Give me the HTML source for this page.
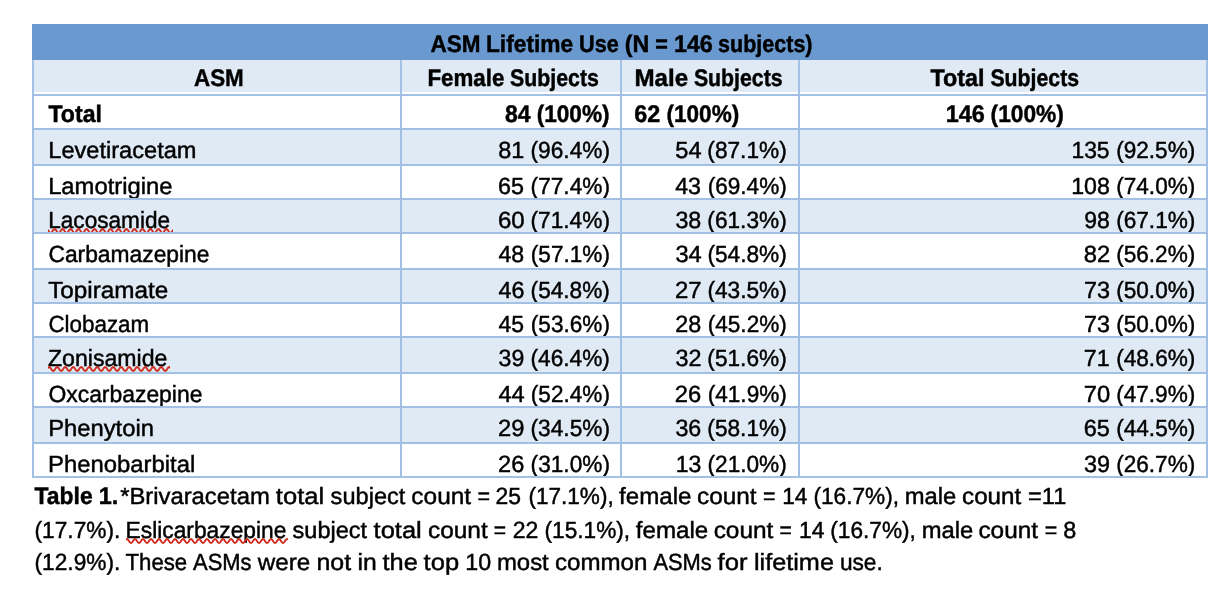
<!DOCTYPE html>
<html lang="en">
<head>
<meta charset="utf-8">
<title>ASM Lifetime Use</title>
<style>
*{box-sizing:border-box;margin:0;padding:0}
html,body{width:1224px;height:596px;background:#fff;overflow:hidden}
body{font-family:"Liberation Sans",sans-serif;font-size:23.4px;color:#000;position:relative;
 -webkit-font-smoothing:antialiased;text-rendering:geometricPrecision;font-kerning:normal;font-variant-ligatures:none;-webkit-text-stroke:0.45px #000}
table{position:absolute;left:32px;top:24px;width:1176px;border-collapse:separate;border-spacing:0;table-layout:fixed}
col.c1{width:370px}col.c2{width:220px}col.c3{width:178px}col.c4{width:408px}
td,th{border-right:2px solid #a2c0e4;border-bottom:2px solid #a2c0e4;vertical-align:top;white-space:nowrap;
 font-weight:400;line-height:22px;overflow:hidden;padding:0;text-align:left}
td:first-child,th:first-child{border-left:2px solid #a2c0e4}
tr.title th{background:#6a99d0;border-color:#6a99d0;height:36px;font-weight:700;text-align:center}
tr.hdr th{background:linear-gradient(to bottom,#e0eaf4 0,#e0eaf4 32px,#fff 32px,#fff 100%);height:36px;font-weight:700}
tr.band td{background:#e0eaf4}
tr.b td{font-weight:700}
tr.title th,tr.hdr th,tr.b td{font-size:24px;line-height:23px}
.cap b{font-size:24px;line-height:27px}
tr.r34 td{height:34px}
tr.r36 td{height:36px}
.w{display:inline-block;transform-origin:0 50%}
td.n{text-align:right}
.cap{position:absolute;left:0;width:1224px;white-space:nowrap;line-height:26px;height:26px;padding-left:34px}
.cap b{font-weight:700}
svg.sq{position:absolute;overflow:hidden}
</style>
</head>
<body>
<table>
<colgroup><col class="c1"><col class="c2"><col class="c3"><col class="c4"></colgroup>
<thead>
<tr class="title"><th colspan="4" style="padding-top:9px"><span class="w" style="transform:translateX(17.52px) scaleX(0.937)">ASM</span> <span class="w" style="transform:translateX(12.98px) scaleX(0.9478)">Lifetime</span> <span class="w" style="transform:translateX(7.1px) scaleX(0.901)">Use</span> <span class="w" style="transform:translateX(2.76px) scaleX(0.9687)">(N</span> <span class="w" style="transform:translateX(1.21px) scaleX(0.8999)">=</span> <span class="w" style="transform:translateX(-1.1px) scaleX(0.9727)">146</span> <span class="w" style="transform:translateX(-3.91px) scaleX(0.8963)">subjects)</span></th></tr>
<tr class="hdr"><th style="padding-top:7px;padding-left:160px"><span class="w" style="transform:scaleX(0.9324)">ASM</span></th><th style="padding-top:7px;padding-left:26px"><span class="w" style="transform:translateX(-0.6px) scaleX(0.9311)">Female</span> <span class="w" style="transform:translateX(-6.92px) scaleX(0.8883)">Subjects</span></th><th style="padding-top:7px;padding-left:13px"><span class="w" style="transform:translateX(-0.5px) scaleX(1.0054)">Male</span> <span class="w" style="transform:translateX(-1.11px) scaleX(0.8869)">Subjects</span></th><th style="padding-top:7px;padding-left:130px"><span class="w" style="transform:translateX(0.53px) scaleX(0.9726)">Total</span> <span class="w" style="transform:translateX(-1.57px) scaleX(0.8866)">Subjects</span></th></tr>
</thead>
<tbody>
<tr class="r34 b"><td style="padding-top:7px;padding-left:14px"><span class="w" style="transform:translateX(0.45px) scaleX(0.9626)">Total</span></td><td style="padding-top:7px;padding-left:103px"><span class="w" style="transform:scaleX(0.9563)">84</span> <span class="w" style="transform:translateX(-1.33px) scaleX(0.9424)">(100%)</span></td><td style="padding-top:7px;padding-left:12px"><span class="w" style="transform:translateX(0.34px) scaleX(0.9736)">62</span> <span class="w" style="transform:translateX(-0.48px) scaleX(0.9396)">(100%)</span></td><td style="padding-top:7px;padding-left:146px"><span class="w" style="transform:translateX(-0.16px) scaleX(0.9744)">146</span> <span class="w" style="transform:translateX(-2.44px) scaleX(0.947)">(100%)</span></td></tr>
<tr class="r36 band"><td style="padding-top:9px;padding-left:14px"><span class="w" style="transform:translateX(0.27px) scaleX(1.0088)">Levetiracetam</span></td><td class="n" style="padding-top:9px;padding-right:10px"><span class="w" style="transform:translateX(2.16px) scaleX(1.0016)">81</span> <span class="w" style="transform:translateX(2.56px) scaleX(0.9693)">(96.4%)</span></td><td class="n" style="padding-top:9px;padding-right:10px"><span class="w" style="transform:translateX(1.36px) scaleX(1.0085)">54</span> <span class="w" style="transform:translateX(1.35px) scaleX(0.9691)">(87.1%)</span></td><td class="n" style="padding-top:9px;padding-right:10px"><span class="w" style="transform:translateX(2.43px) scaleX(0.9779)">135</span> <span class="w" style="transform:translateX(2.22px) scaleX(0.9649)">(92.5%)</span></td></tr>
<tr class="r34"><td style="padding-top:9px;padding-left:14px"><span class="w" style="transform:translateX(0.13px) scaleX(1.0172)">Lamotrigine</span></td><td class="n" style="padding-top:9px;padding-right:10px"><span class="w" style="transform:translateX(2.06px) scaleX(0.9986)">65</span> <span class="w" style="transform:translateX(2.6px) scaleX(0.969)">(77.4%)</span></td><td class="n" style="padding-top:9px;padding-right:10px"><span class="w" style="transform:translateX(1.2px) scaleX(0.9928)">43</span> <span class="w" style="transform:translateX(1.72px) scaleX(0.9646)">(69.4%)</span></td><td class="n" style="padding-top:9px;padding-right:10px"><span class="w" style="transform:translateX(2.19px) scaleX(0.9904)">108</span> <span class="w" style="transform:translateX(2.23px) scaleX(0.9651)">(74.0%)</span></td></tr>
<tr class="r34 band"><td style="padding-top:9px;padding-left:14px"><span class="w" style="transform:translateX(0.26px) scaleX(0.9653)">Lacosamide</span></td><td class="n" style="padding-top:9px;padding-right:10px"><span class="w" style="transform:translateX(2.01px) scaleX(1.0272)">60</span> <span class="w" style="transform:translateX(2.54px) scaleX(0.9693)">(71.4%)</span></td><td class="n" style="padding-top:9px;padding-right:10px"><span class="w" style="transform:translateX(1.42px) scaleX(0.9943)">38</span> <span class="w" style="transform:translateX(1.35px) scaleX(0.9691)">(61.3%)</span></td><td class="n" style="padding-top:9px;padding-right:10px"><span class="w" style="transform:translateX(2.33px) scaleX(0.9828)">98</span> <span class="w" style="transform:translateX(2.17px) scaleX(0.9669)">(67.1%)</span></td></tr>
<tr class="r36"><td style="padding-top:9px;padding-left:14px"><span class="w" style="transform:translateX(0.4px) scaleX(0.9755)">Carbamazepine</span></td><td class="n" style="padding-top:9px;padding-right:10px"><span class="w" style="transform:translateX(2.39px) scaleX(0.9888)">48</span> <span class="w" style="transform:translateX(2.85px) scaleX(0.9653)">(57.1%)</span></td><td class="n" style="padding-top:9px;padding-right:10px"><span class="w" style="transform:translateX(1.4px) scaleX(1.0114)">34</span> <span class="w" style="transform:translateX(1.4px) scaleX(0.9692)">(54.8%)</span></td><td class="n" style="padding-top:9px;padding-right:10px"><span class="w" style="transform:translateX(1.69px) scaleX(1.0143)">82</span> <span class="w" style="transform:translateX(2.17px) scaleX(0.9664)">(56.2%)</span></td></tr>
<tr class="r34 band"><td style="padding-top:9px;padding-left:14px"><span class="w" style="transform:translateX(0.13px) scaleX(1.0385)">Topiramate</span></td><td class="n" style="padding-top:9px;padding-right:10px"><span class="w" style="transform:translateX(2.53px) scaleX(0.9955)">46</span> <span class="w" style="transform:translateX(2.6px) scaleX(0.9675)">(54.8%)</span></td><td class="n" style="padding-top:9px;padding-right:10px"><span class="w" style="transform:translateX(0.88px) scaleX(1.024)">27</span> <span class="w" style="transform:translateX(1.38px) scaleX(0.9693)">(43.5%)</span></td><td class="n" style="padding-top:9px;padding-right:10px"><span class="w" style="transform:translateX(1.88px) scaleX(0.9991)">73</span> <span class="w" style="transform:translateX(2.17px) scaleX(0.9666)">(50.0%)</span></td></tr>
<tr class="r34"><td style="padding-top:9px;padding-left:14px"><span class="w" style="transform:translateX(0.4px) scaleX(0.9573)">Clobazam</span></td><td class="n" style="padding-top:9px;padding-right:10px"><span class="w" style="transform:translateX(2.53px) scaleX(0.981)">45</span> <span class="w" style="transform:translateX(2.85px) scaleX(0.9653)">(53.6%)</span></td><td class="n" style="padding-top:9px;padding-right:10px"><span class="w" style="transform:translateX(1.18px) scaleX(0.997)">28</span> <span class="w" style="transform:translateX(1.7px) scaleX(0.9661)">(45.2%)</span></td><td class="n" style="padding-top:9px;padding-right:10px"><span class="w" style="transform:translateX(1.93px) scaleX(0.9964)">73</span> <span class="w" style="transform:translateX(2.17px) scaleX(0.9663)">(50.0%)</span></td></tr>
<tr class="r36 band"><td style="padding-top:9px;padding-left:14px"><span class="w" style="transform:scaleX(0.9869)">Zonisamide</span></td><td class="n" style="padding-top:9px;padding-right:10px"><span class="w" style="transform:translateX(2.62px) scaleX(0.9876)">39</span> <span class="w" style="transform:translateX(2.56px) scaleX(0.969)">(46.4%)</span></td><td class="n" style="padding-top:9px;padding-right:10px"><span class="w" style="transform:translateX(1.42px) scaleX(0.9991)">32</span> <span class="w" style="transform:translateX(1.35px) scaleX(0.9691)">(51.6%)</span></td><td class="n" style="padding-top:9px;padding-right:10px"><span class="w" style="transform:translateX(1.87px) scaleX(0.9949)">71</span> <span class="w" style="transform:translateX(2.17px) scaleX(0.9666)">(48.6%)</span></td></tr>
<tr class="r34"><td style="padding-top:9px;padding-left:14px"><span class="w" style="transform:translateX(0.47px) scaleX(0.9782)">Oxcarbazepine</span></td><td class="n" style="padding-top:9px;padding-right:10px"><span class="w" style="transform:translateX(2.39px) scaleX(1.0106)">44</span> <span class="w" style="transform:translateX(2.85px) scaleX(0.9653)">(52.4%)</span></td><td class="n" style="padding-top:9px;padding-right:10px"><span class="w" style="transform:translateX(0.85px) scaleX(1.0157)">26</span> <span class="w" style="transform:translateX(1.7px) scaleX(0.9661)">(41.9%)</span></td><td class="n" style="padding-top:9px;padding-right:10px"><span class="w" style="transform:translateX(1.85px) scaleX(1.0152)">70</span> <span class="w" style="transform:translateX(2.17px) scaleX(0.9663)">(47.9%)</span></td></tr>
<tr class="r36 band"><td style="padding-top:9px;padding-left:14px"><span class="w" style="transform:translateX(0.13px) scaleX(1.0166)">Phenytoin</span></td><td class="n" style="padding-top:9px;padding-right:10px"><span class="w" style="transform:translateX(2.1px) scaleX(1.016)">29</span> <span class="w" style="transform:translateX(2.57px) scaleX(0.9692)">(34.5%)</span></td><td class="n" style="padding-top:9px;padding-right:10px"><span class="w" style="transform:translateX(1.44px) scaleX(0.9943)">36</span> <span class="w" style="transform:translateX(1.35px) scaleX(0.9691)">(58.1%)</span></td><td class="n" style="padding-top:9px;padding-right:10px"><span class="w" style="transform:translateX(1.63px) scaleX(1.0045)">65</span> <span class="w" style="transform:translateX(2.17px) scaleX(0.9665)">(44.5%)</span></td></tr>
<tr class="r34"><td style="padding-top:9px;padding-left:14px"><span class="w" style="transform:translateX(0.07px) scaleX(1.0198)">Phenobarbital</span></td><td class="n" style="padding-top:9px;padding-right:10px"><span class="w" style="transform:translateX(2.08px) scaleX(1.0085)">26</span> <span class="w" style="transform:translateX(2.6px) scaleX(0.969)">(31.0%)</span></td><td class="n" style="padding-top:9px;padding-right:10px"><span class="w" style="transform:translateX(1.64px) scaleX(0.9848)">13</span> <span class="w" style="transform:translateX(1.5px) scaleX(0.9681)">(21.0%)</span></td><td class="n" style="padding-top:9px;padding-right:10px"><span class="w" style="transform:translateX(1.88px) scaleX(1.001)">39</span> <span class="w" style="transform:translateX(2.17px) scaleX(0.9664)">(26.7%)</span></td></tr>
</tbody>
</table>
<p class="cap" style="top:483px"><b><span class="w" style="transform:translateX(0.45px) scaleX(0.9555)">Table</span> <span class="w" style="transform:translateX(-3.22px) scaleX(0.976)">1.</span></b><span class="w" style="transform:translateX(-1.87px) scaleX(1.0186)">*Brivaracetam</span> <span class="w" style="transform:translateX(0.86px) scaleX(1.0921)">total</span> <span class="w" style="transform:translateX(4.62px) scaleX(1.0081)">subject</span> <span class="w" style="transform:translateX(5.32px) scaleX(1.0451)">count</span> <span class="w" style="transform:translateX(7.45px) scaleX(0.9168)">=</span> <span class="w" style="transform:translateX(5.6px) scaleX(0.98)">25</span> <span class="w" style="transform:translateX(5.48px) scaleX(0.9638)">(17.1%),</span> <span class="w" style="transform:translateX(1.03px) scaleX(1.0313)">female</span> <span class="w" style="transform:translateX(2.96px) scaleX(1.0402)">count</span> <span class="w" style="transform:translateX(5.06px) scaleX(0.9178)">=</span> <span class="w" style="transform:translateX(4.19px) scaleX(0.9731)">14</span> <span class="w" style="transform:translateX(2.49px) scaleX(0.9679)">(16.7%),</span> <span class="w" style="transform:translateX(-1.24px) scaleX(1.0167)">male</span> <span class="w" style="transform:translateX(-0.94px) scaleX(1.0324)">count</span> <span class="w" style="transform:translateX(1.03px) scaleX(1.0074)">=11</span></p>
<p class="cap" style="top:517px"><span class="w" style="transform:translateX(0.53px) scaleX(0.9701)">(17.7%).</span> <span class="w" style="transform:translateX(-3.44px) scaleX(0.9743)">Eslicarbazepine</span> <span class="w" style="transform:translateX(-8.45px) scaleX(1.0064)">subject</span> <span class="w" style="transform:translateX(-7.4px) scaleX(1.0893)">total</span> <span class="w" style="transform:translateX(-4.04px) scaleX(1.0442)">count</span> <span class="w" style="transform:translateX(-2.17px) scaleX(0.9019)">=</span> <span class="w" style="transform:translateX(-3.27px) scaleX(0.9841)">22</span> <span class="w" style="transform:translateX(-3.44px) scaleX(0.9678)">(15.1%),</span> <span class="w" style="transform:translateX(-7.26px) scaleX(1.0335)">female</span> <span class="w" style="transform:translateX(-6.37px) scaleX(1.0435)">count</span> <span class="w" style="transform:translateX(-4.44px) scaleX(0.9019)">=</span> <span class="w" style="transform:translateX(-5.02px) scaleX(0.9773)">14</span> <span class="w" style="transform:translateX(-5.76px) scaleX(0.9688)">(16.7%),</span> <span class="w" style="transform:translateX(-9.37px) scaleX(1.0164)">male</span> <span class="w" style="transform:translateX(-10.57px) scaleX(1.0416)">count</span> <span class="w" style="transform:translateX(-7.37px) scaleX(0.9143)">=</span> <span class="w" style="transform:translateX(-9.25px)">8</span></p>
<p class="cap" style="top:549px"><span class="w" style="transform:translateX(0.53px) scaleX(0.97)">(12.9%).</span> <span class="w" style="transform:translateX(-3.54px) scaleX(0.9495)">These</span> <span class="w" style="transform:translateX(-6.97px) scaleX(0.9371)">ASMs</span> <span class="w" style="transform:translateX(-11.29px) scaleX(1.0359)">were</span> <span class="w" style="transform:translateX(-10.58px) scaleX(1.065)">not</span> <span class="w" style="transform:translateX(-8.43px) scaleX(1.0567)">in</span> <span class="w" style="transform:translateX(-7.44px) scaleX(1.0864)">the</span> <span class="w" style="transform:translateX(-5.38px) scaleX(1.0905)">top</span> <span class="w" style="transform:translateX(-2.73px) scaleX(0.9929)">10</span> <span class="w" style="transform:translateX(-4.1px) scaleX(1.0231)">most</span> <span class="w" style="transform:translateX(-2.96px) scaleX(1.03)">common</span> <span class="w" style="transform:translateX(-0.6px) scaleX(0.9362)">ASMs</span> <span class="w" style="transform:translateX(-5.38px) scaleX(1.0969)">for</span> <span class="w" style="transform:translateX(-3.04px) scaleX(1.0795)">lifetime</span> <span class="w" style="transform:translateX(1.88px) scaleX(0.9711)">use.</span></p>
<svg class="sq" style="left:47.5px;top:227.9px" width="125" height="4.1" viewBox="0 0 125 4.1" aria-hidden="true"><path d="M0 2.25 L0.5 3 L1 3.75 L1.5 4.38 L2 4.8 L2.5 4.95 L3 4.8 L3.5 4.38 L4 3.75 L4.5 3 L5 2.25 L5.5 1.62 L6 1.2 L6.5 1.05 L7 1.2 L7.5 1.62 L8 2.25 L8.5 3 L9 3.75 L9.5 4.38 L10 4.8 L10.5 4.95 L11 4.8 L11.5 4.38 L12 3.75 L12.5 3 L13 2.25 L13.5 1.62 L14 1.2 L14.5 1.05 L15 1.2 L15.5 1.62 L16 2.25 L16.5 3 L17 3.75 L17.5 4.38 L18 4.8 L18.5 4.95 L19 4.8 L19.5 4.38 L20 3.75 L20.5 3 L21 2.25 L21.5 1.62 L22 1.2 L22.5 1.05 L23 1.2 L23.5 1.62 L24 2.25 L24.5 3 L25 3.75 L25.5 4.38 L26 4.8 L26.5 4.95 L27 4.8 L27.5 4.38 L28 3.75 L28.5 3 L29 2.25 L29.5 1.62 L30 1.2 L30.5 1.05 L31 1.2 L31.5 1.62 L32 2.25 L32.5 3 L33 3.75 L33.5 4.38 L34 4.8 L34.5 4.95 L35 4.8 L35.5 4.38 L36 3.75 L36.5 3 L37 2.25 L37.5 1.62 L38 1.2 L38.5 1.05 L39 1.2 L39.5 1.62 L40 2.25 L40.5 3 L41 3.75 L41.5 4.38 L42 4.8 L42.5 4.95 L43 4.8 L43.5 4.38 L44 3.75 L44.5 3 L45 2.25 L45.5 1.62 L46 1.2 L46.5 1.05 L47 1.2 L47.5 1.62 L48 2.25 L48.5 3 L49 3.75 L49.5 4.38 L50 4.8 L50.5 4.95 L51 4.8 L51.5 4.38 L52 3.75 L52.5 3 L53 2.25 L53.5 1.62 L54 1.2 L54.5 1.05 L55 1.2 L55.5 1.62 L56 2.25 L56.5 3 L57 3.75 L57.5 4.38 L58 4.8 L58.5 4.95 L59 4.8 L59.5 4.38 L60 3.75 L60.5 3 L61 2.25 L61.5 1.62 L62 1.2 L62.5 1.05 L63 1.2 L63.5 1.62 L64 2.25 L64.5 3 L65 3.75 L65.5 4.38 L66 4.8 L66.5 4.95 L67 4.8 L67.5 4.38 L68 3.75 L68.5 3 L69 2.25 L69.5 1.62 L70 1.2 L70.5 1.05 L71 1.2 L71.5 1.62 L72 2.25 L72.5 3 L73 3.75 L73.5 4.38 L74 4.8 L74.5 4.95 L75 4.8 L75.5 4.38 L76 3.75 L76.5 3 L77 2.25 L77.5 1.62 L78 1.2 L78.5 1.05 L79 1.2 L79.5 1.62 L80 2.25 L80.5 3 L81 3.75 L81.5 4.38 L82 4.8 L82.5 4.95 L83 4.8 L83.5 4.38 L84 3.75 L84.5 3 L85 2.25 L85.5 1.62 L86 1.2 L86.5 1.05 L87 1.2 L87.5 1.62 L88 2.25 L88.5 3 L89 3.75 L89.5 4.38 L90 4.8 L90.5 4.95 L91 4.8 L91.5 4.38 L92 3.75 L92.5 3 L93 2.25 L93.5 1.62 L94 1.2 L94.5 1.05 L95 1.2 L95.5 1.62 L96 2.25 L96.5 3 L97 3.75 L97.5 4.38 L98 4.8 L98.5 4.95 L99 4.8 L99.5 4.38 L100 3.75 L100.5 3 L101 2.25 L101.5 1.62 L102 1.2 L102.5 1.05 L103 1.2 L103.5 1.62 L104 2.25 L104.5 3 L105 3.75 L105.5 4.38 L106 4.8 L106.5 4.95 L107 4.8 L107.5 4.38 L108 3.75 L108.5 3 L109 2.25 L109.5 1.62 L110 1.2 L110.5 1.05 L111 1.2 L111.5 1.62 L112 2.25 L112.5 3 L113 3.75 L113.5 4.38 L114 4.8 L114.5 4.95 L115 4.8 L115.5 4.38 L116 3.75 L116.5 3 L117 2.25 L117.5 1.62 L118 1.2 L118.5 1.05 L119 1.2 L119.5 1.62 L120 2.25 L120.5 3 L121 3.75 L121.5 4.38 L122 4.8 L122.5 4.95 L123 4.8 L123.5 4.38 L124 3.75 L124.5 3 L125 2.25" fill="none" stroke="#cf2a1b" stroke-width="1.9" stroke-linecap="round" stroke-linejoin="round"/></svg>
<svg class="sq" style="left:47.5px;top:365.9px" width="122.5" height="6" viewBox="0 0 122.5 6" aria-hidden="true"><path d="M0 1.85 L0.5 1.34 L1 1.07 L1.5 1.1 L2 1.42 L2.5 1.98 L3 2.69 L3.5 3.46 L4 4.15 L4.5 4.66 L5 4.93 L5.5 4.9 L6 4.58 L6.5 4.02 L7 3.31 L7.5 2.54 L8 1.85 L8.5 1.34 L9 1.07 L9.5 1.1 L10 1.42 L10.5 1.98 L11 2.69 L11.5 3.46 L12 4.15 L12.5 4.66 L13 4.93 L13.5 4.9 L14 4.58 L14.5 4.02 L15 3.31 L15.5 2.54 L16 1.85 L16.5 1.34 L17 1.07 L17.5 1.1 L18 1.42 L18.5 1.98 L19 2.69 L19.5 3.46 L20 4.15 L20.5 4.66 L21 4.93 L21.5 4.9 L22 4.58 L22.5 4.02 L23 3.31 L23.5 2.54 L24 1.85 L24.5 1.34 L25 1.07 L25.5 1.1 L26 1.42 L26.5 1.98 L27 2.69 L27.5 3.46 L28 4.15 L28.5 4.66 L29 4.93 L29.5 4.9 L30 4.58 L30.5 4.02 L31 3.31 L31.5 2.54 L32 1.85 L32.5 1.34 L33 1.07 L33.5 1.1 L34 1.42 L34.5 1.98 L35 2.69 L35.5 3.46 L36 4.15 L36.5 4.66 L37 4.93 L37.5 4.9 L38 4.58 L38.5 4.02 L39 3.31 L39.5 2.54 L40 1.85 L40.5 1.34 L41 1.07 L41.5 1.1 L42 1.42 L42.5 1.98 L43 2.69 L43.5 3.46 L44 4.15 L44.5 4.66 L45 4.93 L45.5 4.9 L46 4.58 L46.5 4.02 L47 3.31 L47.5 2.54 L48 1.85 L48.5 1.34 L49 1.07 L49.5 1.1 L50 1.42 L50.5 1.98 L51 2.69 L51.5 3.46 L52 4.15 L52.5 4.66 L53 4.93 L53.5 4.9 L54 4.58 L54.5 4.02 L55 3.31 L55.5 2.54 L56 1.85 L56.5 1.34 L57 1.07 L57.5 1.1 L58 1.42 L58.5 1.98 L59 2.69 L59.5 3.46 L60 4.15 L60.5 4.66 L61 4.93 L61.5 4.9 L62 4.58 L62.5 4.02 L63 3.31 L63.5 2.54 L64 1.85 L64.5 1.34 L65 1.07 L65.5 1.1 L66 1.42 L66.5 1.98 L67 2.69 L67.5 3.46 L68 4.15 L68.5 4.66 L69 4.93 L69.5 4.9 L70 4.58 L70.5 4.02 L71 3.31 L71.5 2.54 L72 1.85 L72.5 1.34 L73 1.07 L73.5 1.1 L74 1.42 L74.5 1.98 L75 2.69 L75.5 3.46 L76 4.15 L76.5 4.66 L77 4.93 L77.5 4.9 L78 4.58 L78.5 4.02 L79 3.31 L79.5 2.54 L80 1.85 L80.5 1.34 L81 1.07 L81.5 1.1 L82 1.42 L82.5 1.98 L83 2.69 L83.5 3.46 L84 4.15 L84.5 4.66 L85 4.93 L85.5 4.9 L86 4.58 L86.5 4.02 L87 3.31 L87.5 2.54 L88 1.85 L88.5 1.34 L89 1.07 L89.5 1.1 L90 1.42 L90.5 1.98 L91 2.69 L91.5 3.46 L92 4.15 L92.5 4.66 L93 4.93 L93.5 4.9 L94 4.58 L94.5 4.02 L95 3.31 L95.5 2.54 L96 1.85 L96.5 1.34 L97 1.07 L97.5 1.1 L98 1.42 L98.5 1.98 L99 2.69 L99.5 3.46 L100 4.15 L100.5 4.66 L101 4.93 L101.5 4.9 L102 4.58 L102.5 4.02 L103 3.31 L103.5 2.54 L104 1.85 L104.5 1.34 L105 1.07 L105.5 1.1 L106 1.42 L106.5 1.98 L107 2.69 L107.5 3.46 L108 4.15 L108.5 4.66 L109 4.93 L109.5 4.9 L110 4.58 L110.5 4.02 L111 3.31 L111.5 2.54 L112 1.85 L112.5 1.34 L113 1.07 L113.5 1.1 L114 1.42 L114.5 1.98 L115 2.69 L115.5 3.46 L116 4.15 L116.5 4.66 L117 4.93 L117.5 4.9 L118 4.58 L118.5 4.02 L119 3.31 L119.5 2.54 L120 1.85 L120.5 1.34 L121 1.07 L121.5 1.1 L122 1.42 L122.5 1.98" fill="none" stroke="#cf2a1b" stroke-width="1.9" stroke-linecap="round" stroke-linejoin="round"/></svg>
<svg class="sq" style="left:126px;top:538px" width="161.5" height="6" viewBox="0 0 161.5 6" aria-hidden="true"><path d="M0 1.62 L0.5 1.2 L1 1.05 L1.5 1.2 L2 1.62 L2.5 2.25 L3 3 L3.5 3.75 L4 4.38 L4.5 4.8 L5 4.95 L5.5 4.8 L6 4.38 L6.5 3.75 L7 3 L7.5 2.25 L8 1.62 L8.5 1.2 L9 1.05 L9.5 1.2 L10 1.62 L10.5 2.25 L11 3 L11.5 3.75 L12 4.38 L12.5 4.8 L13 4.95 L13.5 4.8 L14 4.38 L14.5 3.75 L15 3 L15.5 2.25 L16 1.62 L16.5 1.2 L17 1.05 L17.5 1.2 L18 1.62 L18.5 2.25 L19 3 L19.5 3.75 L20 4.38 L20.5 4.8 L21 4.95 L21.5 4.8 L22 4.38 L22.5 3.75 L23 3 L23.5 2.25 L24 1.62 L24.5 1.2 L25 1.05 L25.5 1.2 L26 1.62 L26.5 2.25 L27 3 L27.5 3.75 L28 4.38 L28.5 4.8 L29 4.95 L29.5 4.8 L30 4.38 L30.5 3.75 L31 3 L31.5 2.25 L32 1.62 L32.5 1.2 L33 1.05 L33.5 1.2 L34 1.62 L34.5 2.25 L35 3 L35.5 3.75 L36 4.38 L36.5 4.8 L37 4.95 L37.5 4.8 L38 4.38 L38.5 3.75 L39 3 L39.5 2.25 L40 1.62 L40.5 1.2 L41 1.05 L41.5 1.2 L42 1.62 L42.5 2.25 L43 3 L43.5 3.75 L44 4.38 L44.5 4.8 L45 4.95 L45.5 4.8 L46 4.38 L46.5 3.75 L47 3 L47.5 2.25 L48 1.62 L48.5 1.2 L49 1.05 L49.5 1.2 L50 1.62 L50.5 2.25 L51 3 L51.5 3.75 L52 4.38 L52.5 4.8 L53 4.95 L53.5 4.8 L54 4.38 L54.5 3.75 L55 3 L55.5 2.25 L56 1.62 L56.5 1.2 L57 1.05 L57.5 1.2 L58 1.62 L58.5 2.25 L59 3 L59.5 3.75 L60 4.38 L60.5 4.8 L61 4.95 L61.5 4.8 L62 4.38 L62.5 3.75 L63 3 L63.5 2.25 L64 1.62 L64.5 1.2 L65 1.05 L65.5 1.2 L66 1.62 L66.5 2.25 L67 3 L67.5 3.75 L68 4.38 L68.5 4.8 L69 4.95 L69.5 4.8 L70 4.38 L70.5 3.75 L71 3 L71.5 2.25 L72 1.62 L72.5 1.2 L73 1.05 L73.5 1.2 L74 1.62 L74.5 2.25 L75 3 L75.5 3.75 L76 4.38 L76.5 4.8 L77 4.95 L77.5 4.8 L78 4.38 L78.5 3.75 L79 3 L79.5 2.25 L80 1.62 L80.5 1.2 L81 1.05 L81.5 1.2 L82 1.62 L82.5 2.25 L83 3 L83.5 3.75 L84 4.38 L84.5 4.8 L85 4.95 L85.5 4.8 L86 4.38 L86.5 3.75 L87 3 L87.5 2.25 L88 1.62 L88.5 1.2 L89 1.05 L89.5 1.2 L90 1.62 L90.5 2.25 L91 3 L91.5 3.75 L92 4.38 L92.5 4.8 L93 4.95 L93.5 4.8 L94 4.38 L94.5 3.75 L95 3 L95.5 2.25 L96 1.62 L96.5 1.2 L97 1.05 L97.5 1.2 L98 1.62 L98.5 2.25 L99 3 L99.5 3.75 L100 4.38 L100.5 4.8 L101 4.95 L101.5 4.8 L102 4.38 L102.5 3.75 L103 3 L103.5 2.25 L104 1.62 L104.5 1.2 L105 1.05 L105.5 1.2 L106 1.62 L106.5 2.25 L107 3 L107.5 3.75 L108 4.38 L108.5 4.8 L109 4.95 L109.5 4.8 L110 4.38 L110.5 3.75 L111 3 L111.5 2.25 L112 1.62 L112.5 1.2 L113 1.05 L113.5 1.2 L114 1.62 L114.5 2.25 L115 3 L115.5 3.75 L116 4.38 L116.5 4.8 L117 4.95 L117.5 4.8 L118 4.38 L118.5 3.75 L119 3 L119.5 2.25 L120 1.62 L120.5 1.2 L121 1.05 L121.5 1.2 L122 1.62 L122.5 2.25 L123 3 L123.5 3.75 L124 4.38 L124.5 4.8 L125 4.95 L125.5 4.8 L126 4.38 L126.5 3.75 L127 3 L127.5 2.25 L128 1.62 L128.5 1.2 L129 1.05 L129.5 1.2 L130 1.62 L130.5 2.25 L131 3 L131.5 3.75 L132 4.38 L132.5 4.8 L133 4.95 L133.5 4.8 L134 4.38 L134.5 3.75 L135 3 L135.5 2.25 L136 1.62 L136.5 1.2 L137 1.05 L137.5 1.2 L138 1.62 L138.5 2.25 L139 3 L139.5 3.75 L140 4.38 L140.5 4.8 L141 4.95 L141.5 4.8 L142 4.38 L142.5 3.75 L143 3 L143.5 2.25 L144 1.62 L144.5 1.2 L145 1.05 L145.5 1.2 L146 1.62 L146.5 2.25 L147 3 L147.5 3.75 L148 4.38 L148.5 4.8 L149 4.95 L149.5 4.8 L150 4.38 L150.5 3.75 L151 3 L151.5 2.25 L152 1.62 L152.5 1.2 L153 1.05 L153.5 1.2 L154 1.62 L154.5 2.25 L155 3 L155.5 3.75 L156 4.38 L156.5 4.8 L157 4.95 L157.5 4.8 L158 4.38 L158.5 3.75 L159 3 L159.5 2.25 L160 1.62 L160.5 1.2 L161 1.05 L161.5 1.2" fill="none" stroke="#cf2a1b" stroke-width="1.9" stroke-linecap="round" stroke-linejoin="round"/></svg>
</body>
</html>
